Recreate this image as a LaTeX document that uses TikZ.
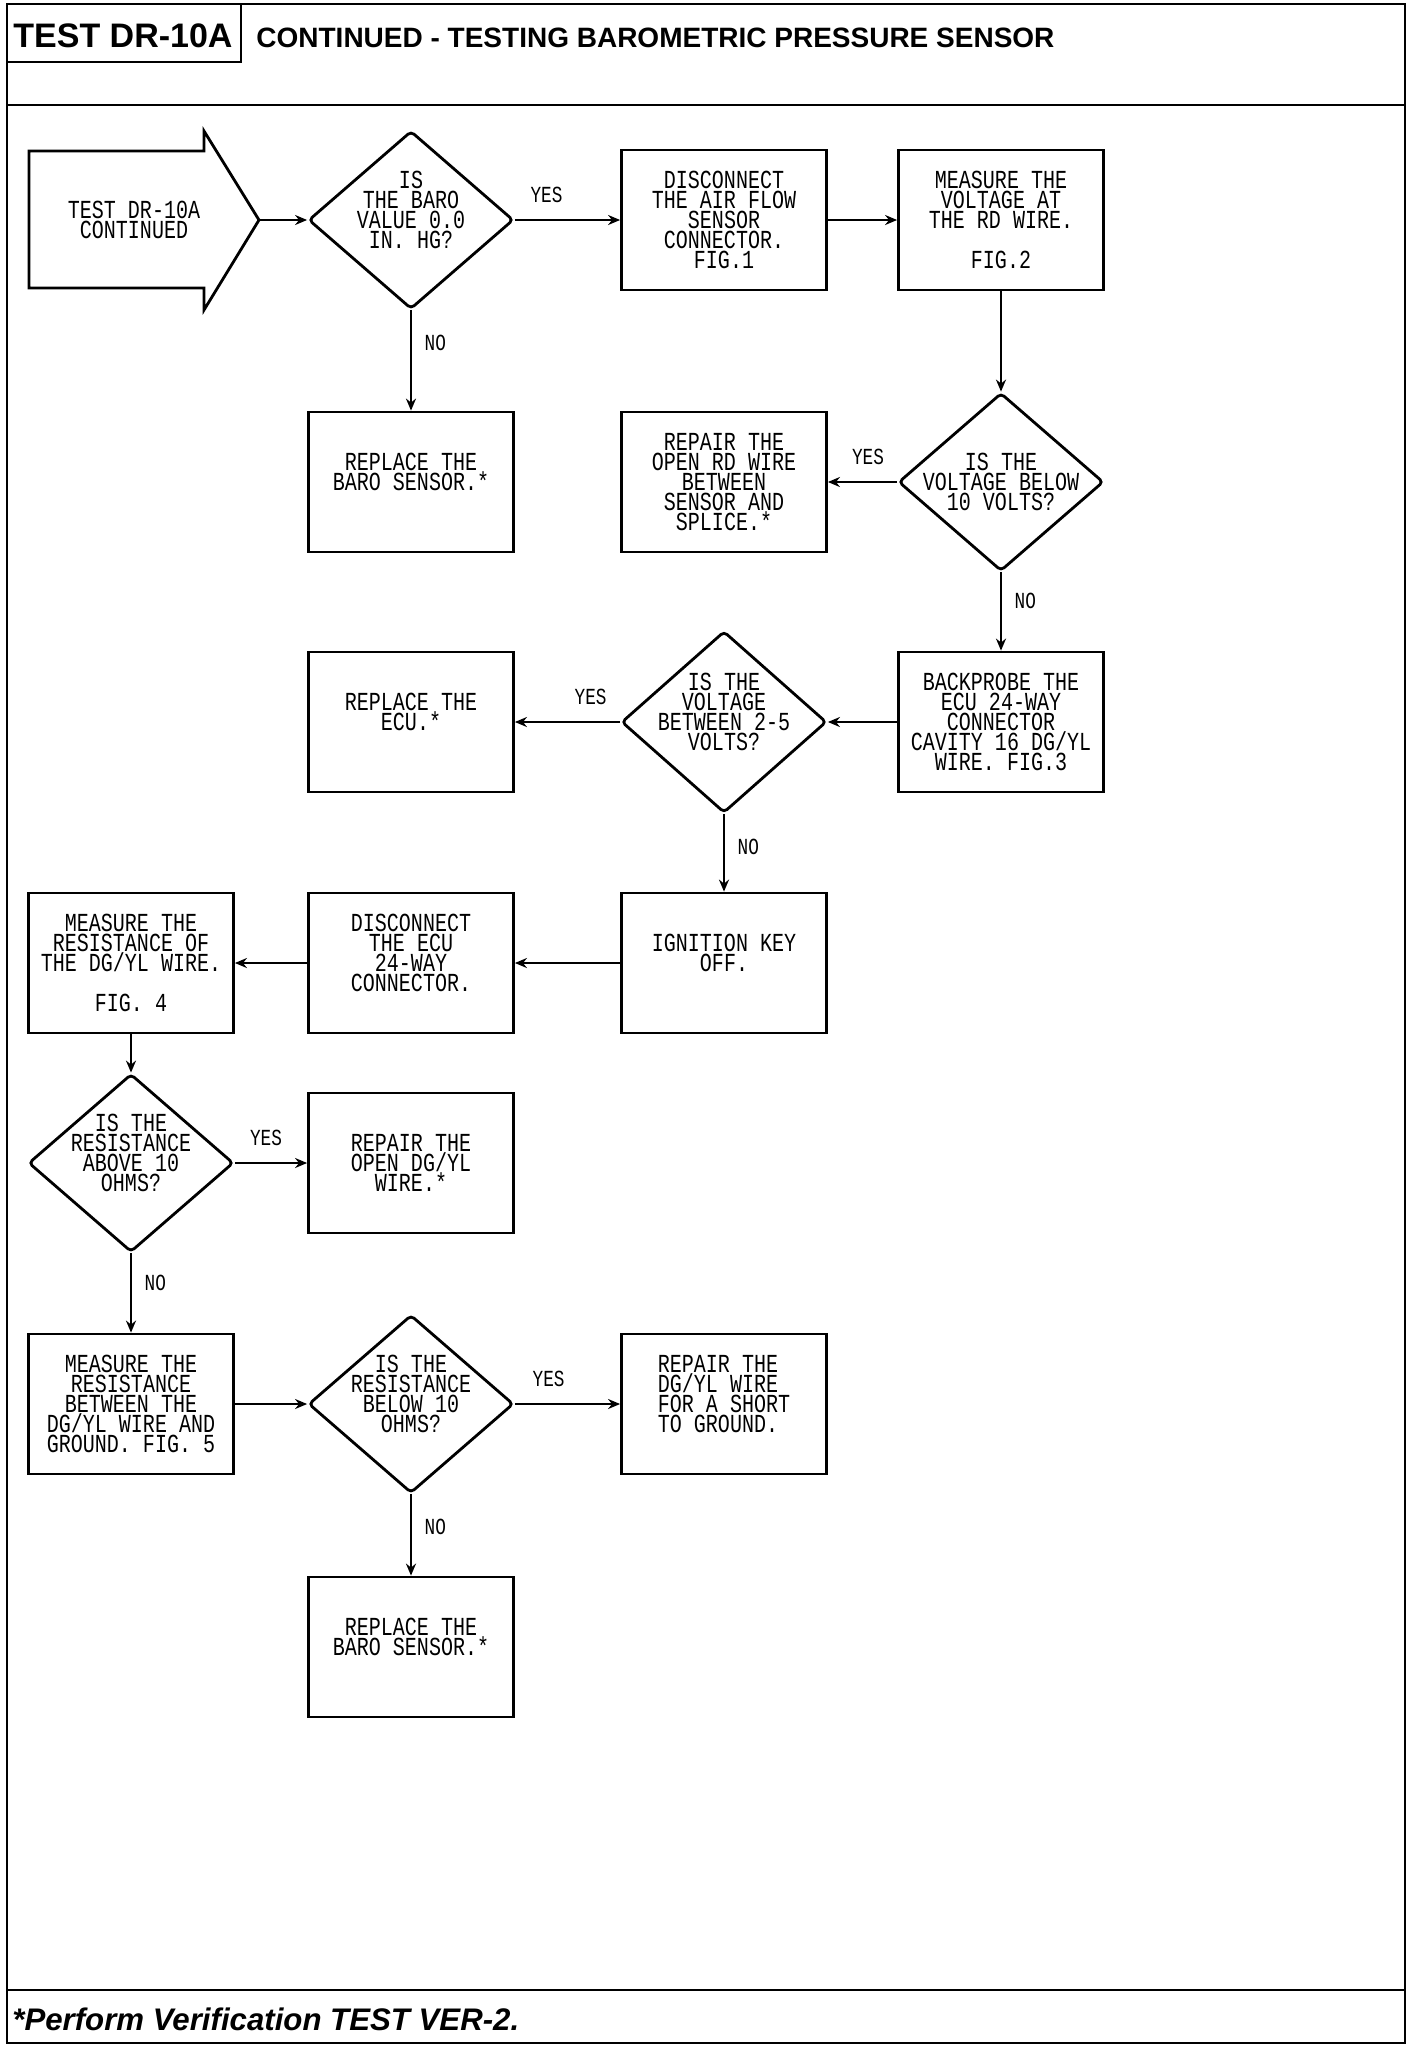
\documentclass[tikz,border=0pt]{standalone}
\usepackage{fontspec}
\setmainfont{Liberation Sans}
\newfontfamily\plotter[FakeStretch=0.77]{Liberation Mono}
\newcommand\flowtext{\plotter\fontsize{13}{10}\selectfont}
\newcommand\labtext{\plotter\fontsize{11.5}{12}\selectfont}
\usetikzlibrary{shapes.geometric,arrows.meta}

\begin{document}
\begin{tikzpicture}[x=0.5pt, y=-0.5pt,
    box/.style={draw, line width=1.4pt, minimum width=102.5pt, minimum height=70pt,
      inner sep=0pt, align=center, font=\flowtext},
    test/.style={draw, diamond, line width=1.4pt, rounded corners=2pt,
      minimum width=102.5pt, minimum height=89pt, inner sep=-6pt, align=center, font=\flowtext},
    flow/.style={line width=1pt, -{Stealth[length=6pt,width=5pt]}},
    yeslab/.style={font=\labtext, above=5pt},
    nolab/.style={font=\labtext, right=3pt}]

    \useasboundingbox (0,0) rectangle (1424,2046);

    % frame, header and footer
    \draw[line width=1.4pt] (7,4) rectangle (1405,2043);
    \draw[line width=1.4pt] (7,105) to (1405,105);
    \draw[line width=1.4pt] (7,1990) to (1405,1990);
    \draw[line width=1pt] (7,4) rectangle (241,62);
    \node[anchor=base west, inner sep=0pt, font=\bfseries\fontsize{17}{20}\selectfont] (title) at (13,47){TEST DR-10A};
    \node[anchor=base west, inner sep=0pt, font=\bfseries\fontsize{14}{16}\selectfont] (subtitle) at (256,47){CONTINUED - TESTING BAROMETRIC PRESSURE SENSOR};
    \node[anchor=base west, inner sep=0pt, font=\bfseries\itshape\fontsize{15.6}{18}\selectfont] (verify) at (12,2030){*Perform Verification TEST VER-2.};

    % entry arrow
    \draw[line width=1.4pt] (29,151) -- (204,151) -- (204,131) -- (259,220) -- (204,310) -- (204,288) -- (29,288) -- cycle;
    \coordinate (starttip) at (259,220);
    \node[font=\flowtext, align=center] (start) at (134,220){TEST DR-10A\\CONTINUED};

    % row 1
    \node[test] (isbaro) at (411,220){IS\\THE BARO\\VALUE 0.0\\IN. HG?\\~};
    \node[box] (disaf) at (724,220){DISCONNECT\\THE AIR FLOW\\SENSOR\\CONNECTOR.\\FIG.1};
    \node[box] (measrd) at (1001,220){MEASURE THE\\VOLTAGE AT\\THE RD WIRE.\\~\\FIG.2};
    % row 2
    \node[box] (repbaro) at (411,482){REPLACE THE\\BARO SENSOR.*\\~};
    \node[box] (reprd) at (724,482){REPAIR THE\\OPEN RD WIRE\\BETWEEN\\SENSOR AND\\SPLICE.*};
    \node[test] (isvolt) at (1001,482){IS THE\\VOLTAGE BELOW\\10 VOLTS?};
    % row 3
    \node[box] (repecu) at (411,722){REPLACE THE\\ECU.*\\~};
    \node[test] (isrange) at (724,722){IS THE\\VOLTAGE\\BETWEEN 2-5\\VOLTS?\\~};
    \node[box] (backpr) at (1001,722){BACKPROBE THE\\ECU 24-WAY\\CONNECTOR\\CAVITY 16 DG/YL\\WIRE. FIG.3};
    % row 4
    \node[box] (measdg) at (131,963){MEASURE THE\\RESISTANCE OF\\THE DG/YL WIRE.\\~\\FIG. 4};
    \node[box] (disecu) at (411,963){DISCONNECT\\THE ECU\\24-WAY\\CONNECTOR.\\~};
    \node[box] (igoff) at (724,963){IGNITION KEY\\OFF.\\~};
    % row 5
    \node[test] (isabove) at (131,1163){IS THE\\RESISTANCE\\ABOVE 10\\OHMS?\\~};
    \node[box] (repopen) at (411,1163){REPAIR THE\\OPEN DG/YL\\WIRE.*};
    % row 6
    \node[box] (measgnd) at (131,1404){MEASURE THE\\RESISTANCE\\BETWEEN THE\\DG/YL WIRE AND\\GROUND. FIG. 5};
    \node[test] (isbelow) at (411,1404){IS THE\\RESISTANCE\\BELOW 10\\OHMS?\\~};
    \node[box, align=left] (repshort) at (724,1404){REPAIR THE\\DG/YL WIRE\\FOR A SHORT\\TO GROUND.\\~};
    % row 7
    \node[box] (repbarob) at (411,1647){REPLACE THE\\BARO SENSOR.*\\~};

    \draw[flow] (starttip) to (isbaro);
    \draw[flow] (isbaro) to node[yeslab, pos=0.3]{YES} (disaf);
    \draw[flow] (disaf) to (measrd);
    \draw[flow] (isbaro) to node[nolab, pos=0.32]{NO} (repbaro);
    \draw[flow] (measrd) to (isvolt);
    \draw[flow] (isvolt) to node[yeslab, pos=0.42]{YES} (reprd);
    \draw[flow] (isvolt) to node[nolab, pos=0.36]{NO} (backpr);
    \draw[flow] (backpr) to (isrange);
    \draw[flow] (isrange) to node[yeslab, pos=0.28]{YES} (repecu);
    \draw[flow] (isrange) to node[nolab, pos=0.42]{NO} (igoff);
    \draw[flow] (igoff) to (disecu);
    \draw[flow] (disecu) to (measdg);
    \draw[flow] (measdg) to (isabove);
    \draw[flow] (isabove) to node[yeslab, pos=0.43]{YES} (repopen);
    \draw[flow] (isabove) to node[nolab, pos=0.37]{NO} (measgnd);
    \draw[flow] (measgnd) to (isbelow);
    \draw[flow] (isbelow) to node[yeslab, pos=0.32]{YES} (repshort);
    \draw[flow] (isbelow) to node[nolab, pos=0.4]{NO} (repbarob);

  \end{tikzpicture}
\end{document}
